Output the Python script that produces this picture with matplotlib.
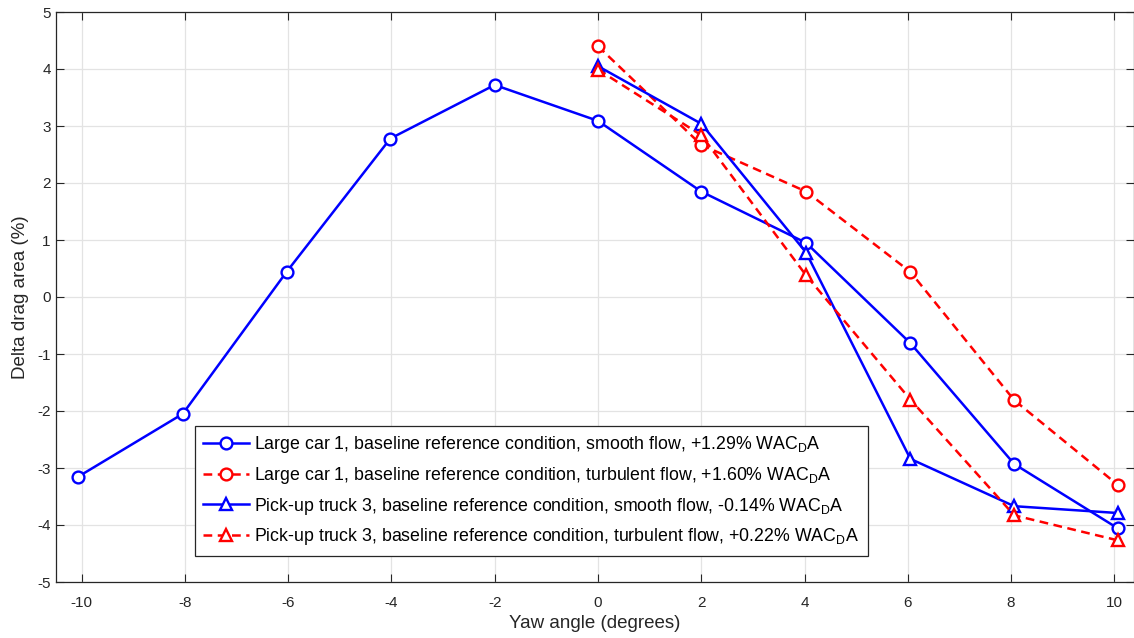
import matplotlib
matplotlib.use("Agg")
import matplotlib.pyplot as plt
import numpy as np

plt.rcParams['font.family'] = ['Liberation Sans', 'DejaVu Sans']
plt.rcParams['axes.unicode_minus'] = False
plt.rcParams['mathtext.default'] = 'regular'

# yaw angles (measured, slightly off the nominal values)
yaw_all = [-10.06, -8.04, -6.03, -4.02, -2.0, 0.0, 2.0, 4.03, 6.05, 8.06, 10.07]
yaw_pos = [0.0, 2.0, 4.03, 6.05, 8.06, 10.07]

car_smooth = [-3.15, -2.05, 0.44, 2.78, 3.72, 3.09, 1.85, 0.95, -0.81, -2.93, -4.06]
car_turb = [4.40, 2.67, 1.85, 0.44, -1.81, -3.30]
truck_smooth = [4.05, 3.04, 0.78, -2.84, -3.67, -3.79]
truck_turb = [3.99, 2.84, 0.38, -1.80, -3.83, -4.27]

labels = [
    "Large car 1, baseline reference condition, smooth flow, +1.29% WAC$_D$A",
    "Large car 1, baseline reference condition, turbulent flow, +1.60% WAC$_D$A",
    "Pick-up truck 3, baseline reference condition, smooth flow, -0.14% WAC$_D$A",
    "Pick-up truck 3, baseline reference condition, turbulent flow, +0.22% WAC$_D$A",
]

fig = plt.figure(figsize=(11.34, 6.38), dpi=100)
ax = fig.add_axes([55.7 / 1134, 1 - 582 / 638, (1133.5 - 55.7) / 1134, 570 / 638])

dash = (0, (3.5, 2.2))
common = dict(lw=1.8, markersize=8.5, markeredgewidth=1.7, markerfacecolor='white')
ax.plot(yaw_all, car_smooth, color='#0000ff', marker='o', label=labels[0], **common)
ax.plot(yaw_pos, car_turb, color='#ff0000', marker='o', linestyle=dash, label=labels[1], **common)
ax.plot(yaw_pos, truck_smooth, color='#0000ff', marker='^', label=labels[2], **common)
ax.plot(yaw_pos, truck_turb, color='#ff0000', marker='^', linestyle=dash, label=labels[3], **common)

ax.set_xlim(-10.5, 10.37)
ax.set_ylim(-5, 5)
ax.set_xticks(np.arange(-10, 11, 2))
ax.set_yticks(np.arange(-5, 6, 1))
ax.grid(True, color='#e3e3e3', lw=0.9)
ax.set_axisbelow(True)
ax.tick_params(direction='in', length=6, width=0.8, colors='#262626', labelsize=11,
               top=True, right=True, labelcolor='#262626')
ax.tick_params(axis='x', pad=10)
for s in ax.spines.values():
    s.set_color('#262626')
    s.set_linewidth(0.9)

ax.set_xlabel('Yaw angle (degrees)', fontsize=13.5, color='#262626', labelpad=4)
ax.set_ylabel('Delta drag area (%)', fontsize=13.5, color='#262626', labelpad=6)

leg = ax.legend(loc='lower left', bbox_to_anchor=(0.129, 0.046), fontsize=12.8,
                frameon=True, fancybox=False, edgecolor='#262626', framealpha=1,
                handlelength=2.6, handletextpad=0.25, borderpad=0.48, labelspacing=0.54,
                borderaxespad=0)
leg.get_frame().set_linewidth(0.9)

fig.savefig('out.png', dpi=100)
